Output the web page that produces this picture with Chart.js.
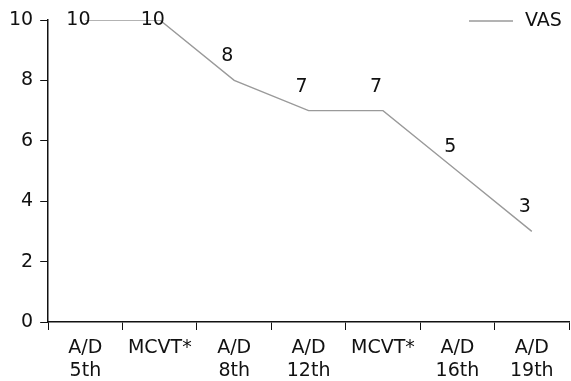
<!DOCTYPE html>
<html lang="en">
<head>
    <title>VAS</title>
    <script src="https://cdn.jsdelivr.net/npm/chart.js"></script>
    <style>
        body { margin: 0; padding: 0; background: #fff; }
        .wrap { width: 571px; height: 381px; }
    </style>
</head>
<body>
    <div class="wrap"><canvas id="vasChart" width="571" height="381"></canvas></div>
    <script>
        const categories = [["A/D", "5th"], "MCVT*", ["A/D", "8th"], ["A/D", "12th"], "MCVT*", ["A/D", "16th"], ["A/D", "19th"]];
        const vasValues = [10, 10, 8, 7, 7, 5, 3];
        const yTicks = [0, 2, 4, 6, 8, 10];
        const lineColor = "#9a9a9a";
        const fontFamily = "'DejaVu Sans', sans-serif";

        // values drawn above each point, plus a small legend inside the plot
        const labelPlugin = {
            id: "vasLabels",
            afterDatasetsDraw(chart) {
                const ctx = chart.ctx;
                const meta = chart.getDatasetMeta(0);
                ctx.save();
                ctx.font = "19px " + fontFamily;
                ctx.fillStyle = "#111";
                ctx.textAlign = "center";
                ctx.textBaseline = "middle";
                meta.data.forEach((pt, i) => {
                    const v = vasValues[i];
                    const dy = v >= 10 ? 0 : -24;
                    ctx.fillText(String(v), pt.x - 7, pt.y + dy);
                });

                const area = chart.chartArea;
                ctx.strokeStyle = lineColor;
                ctx.lineWidth = 1.5;
                ctx.beginPath();
                ctx.moveTo(area.right - 100, area.top + 1);
                ctx.lineTo(area.right - 56, area.top + 1);
                ctx.stroke();
                ctx.textAlign = "left";
                ctx.fillText(chart.data.datasets[0].label, area.right - 44, area.top + 1);
                ctx.restore();
            }
        };

        new Chart(document.getElementById("vasChart"), {
            type: "line",
            data: {
                labels: categories,
                datasets: [{
                    label: "VAS",
                    data: vasValues,
                    borderColor: lineColor,
                    borderWidth: 1.4,
                    pointRadius: 0,
                    tension: 0,
                    fill: false
                }]
            },
            options: {
                responsive: false,
                animation: false,
                layout: { padding: { top: 20, right: 2, left: 2, bottom: 0 } },
                plugins: {
                    legend: { display: false },
                    tooltip: { enabled: false }
                },
                scales: {
                    x: {
                        offset: true,
                        afterFit(axis) { axis.height = 59; },
                        grid: { drawOnChartArea: false, drawTicks: true, tickLength: 8, color: "#111", offset: true },
                        border: { color: "#111", width: 1.5 },
                        ticks: { color: "#111", font: { size: 19, family: fontFamily, lineHeight: 1.2 }, padding: 7, maxRotation: 0, autoSkip: false }
                    },
                    y: {
                        min: 0,
                        max: 10,
                        afterBuildTicks(axis) { axis.ticks = yTicks.map(v => ({ value: v })); },
                        grid: { drawOnChartArea: false, drawTicks: true, tickLength: 8, color: "#111" },
                        border: { color: "#111", width: 1.5 },
                        ticks: { color: "#111", font: { size: 19, family: fontFamily }, padding: 7 }
                    }
                }
            },
            plugins: [labelPlugin]
        });
    </script>
</body>
</html>
